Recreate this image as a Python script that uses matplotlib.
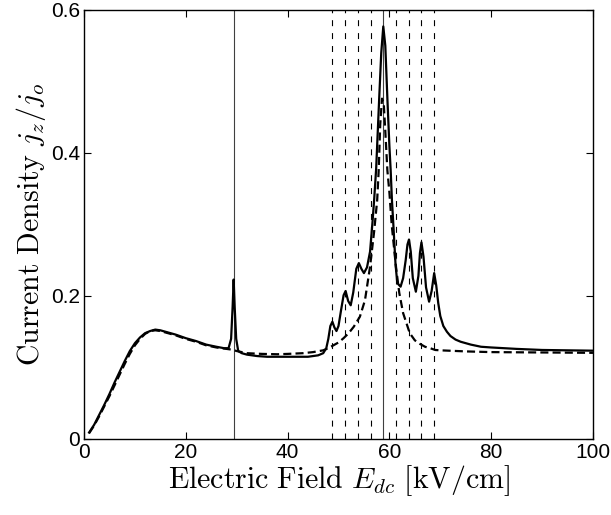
import matplotlib
matplotlib.use('Agg')
import matplotlib.pyplot as plt
import numpy as np

plt.rcParams['mathtext.fontset'] = 'cm'
plt.rcParams['lines.scale_dashes'] = False

# full model (solid)
x_full = [1.0, 2.0, 3.0, 4.0, 5.0, 6.0, 7.0, 8.0, 9.0, 10.0,
          11.0, 12.0, 13.0, 14.0, 15.0, 16.0, 18.0, 20.0, 22.0, 24.0,
          26.0, 27.5, 28.4, 28.9, 29.2, 29.4, 29.6, 29.9, 30.3, 31.0,
          32.0, 34.0, 36.0, 40.0, 44.0, 46.0, 47.0, 47.6, 48.0, 48.4,
          48.8, 49.2, 49.6, 50.0, 50.5, 51.0, 51.4, 51.9, 52.4, 52.9,
          53.5, 54.0, 54.5, 55.0, 55.6, 56.2, 56.7, 57.0, 57.4, 58.0,
          58.4, 58.8, 59.2, 59.6, 60.0, 60.25, 60.5, 60.8, 61.2, 61.55,
          62.2, 62.7, 63.2, 63.55, 63.85, 64.2, 64.6, 65.2, 65.7, 66.0,
          66.3, 66.7, 67.2, 67.8, 68.3, 68.8, 69.2, 69.6, 70.0, 70.6,
          71.3, 72.0, 73.0, 74.0, 76.0, 78.0, 80.0, 85.0, 90.0, 95.0,
          100.0]
j_full = [0.009, 0.020, 0.034, 0.048, 0.063, 0.079, 0.094, 0.109, 0.123, 0.134,
          0.142, 0.148, 0.151, 0.153, 0.152, 0.150, 0.146, 0.141, 0.137, 0.132,
          0.129, 0.127, 0.127, 0.140, 0.185, 0.223, 0.185, 0.140, 0.123, 0.120,
          0.118, 0.116, 0.115, 0.115, 0.115, 0.117, 0.120, 0.127, 0.140, 0.158,
          0.164, 0.156, 0.151, 0.158, 0.180, 0.201, 0.207, 0.193, 0.187, 0.205,
          0.238, 0.246, 0.238, 0.232, 0.240, 0.262, 0.305, 0.334, 0.378, 0.477,
          0.540, 0.577, 0.550, 0.477, 0.410, 0.376, 0.334, 0.297, 0.245, 0.218,
          0.213, 0.225, 0.250, 0.272, 0.279, 0.262, 0.225, 0.206, 0.228, 0.260,
          0.275, 0.255, 0.212, 0.192, 0.207, 0.232, 0.215, 0.190, 0.172, 0.158,
          0.150, 0.144, 0.139, 0.136, 0.132, 0.129, 0.128, 0.126, 0.1245, 0.124,
          0.1235]

# single resonance (dashed)
x_res = [1.0, 2.0, 3.0, 4.0, 5.0, 6.0, 7.0, 8.0, 9.0, 10.0,
         11.0, 12.0, 13.0, 14.0, 15.0, 16.0, 18.0, 20.0, 22.0, 24.0,
         26.0, 28.0, 29.0, 30.0, 32.0, 35.0, 38.0, 40.0, 43.0, 45.0,
         47.0, 48.0, 49.0, 50.0, 51.0, 52.0, 53.0, 54.2, 55.2, 56.2,
         57.0, 57.6, 57.9, 58.2, 58.55, 58.9, 59.2, 59.6, 60.0, 60.45,
         61.3, 61.95, 62.7, 64.0, 65.0, 66.0, 67.0, 68.0, 69.0, 70.0,
         75.0, 80.0, 90.0, 100.0]
j_res = [0.008, 0.019, 0.032, 0.046, 0.060, 0.075, 0.090, 0.105, 0.119, 0.131,
         0.140, 0.147, 0.151, 0.152, 0.151, 0.149, 0.145, 0.140, 0.136, 0.131,
         0.128, 0.126, 0.125, 0.123, 0.120, 0.119, 0.1185, 0.119, 0.120, 0.1215,
         0.124, 0.127, 0.131, 0.135, 0.141, 0.148, 0.157, 0.171, 0.194, 0.241,
         0.290, 0.334, 0.376, 0.440, 0.476, 0.468, 0.430, 0.376, 0.345, 0.300,
         0.240, 0.204, 0.176, 0.148, 0.138, 0.133, 0.129, 0.127, 0.1245, 0.124,
         0.1225, 0.1215, 0.121, 0.1205]

solid_marks = [29.4, 58.8]
dashed_marks = [48.8, 51.3, 53.8, 56.3, 61.3, 63.8, 66.3, 68.8]

xticks = [0, 20, 40, 60, 80, 100]
yticks = [0, 0.2, 0.4, 0.6]
yticklabels = ['0', '0.2', '0.4', '0.6']

### PLOT ###
fig = plt.figure(figsize=(6.11, 5.15), dpi=100)
ax = fig.add_axes([0.1375, 0.1476, 0.833, 0.833])

for xm in solid_marks:
    ax.axvline(xm, color='0.25', lw=0.8)
for xm in dashed_marks:
    ax.axvline(xm, color='black', lw=0.8, dashes=(4.3, 5.0))

ax.plot(x_res, j_res, color='black', lw=1.6, dashes=(5.8, 3.0))
ax.plot(x_full, j_full, color='black', lw=1.6)

ax.set_xlim(0, 100)
ax.set_ylim(0, 0.6)
ax.set_xticks(xticks)
ax.set_xticklabels([str(t) for t in xticks])
ax.set_yticks(yticks)
ax.set_yticklabels(yticklabels)
ax.tick_params(direction='in', top=True, right=True, length=5, width=0.8,
               labelsize=15, pad=3)
for lab in ax.get_xticklabels() + ax.get_yticklabels():
    lab.set_fontfamily('Liberation Sans')
for sp in ax.spines.values():
    sp.set_linewidth(1.0)

ax.set_xlabel(r'$\mathrm{Electric\ Field}\ E_{dc}\ [\mathrm{kV/cm}]$',
              fontsize=21.5, labelpad=1)
ax.set_ylabel(r'$\mathrm{Current\ Density}\ j_z/j_o$', fontsize=21.5, labelpad=2)

fig.savefig('out.png', dpi=100)
